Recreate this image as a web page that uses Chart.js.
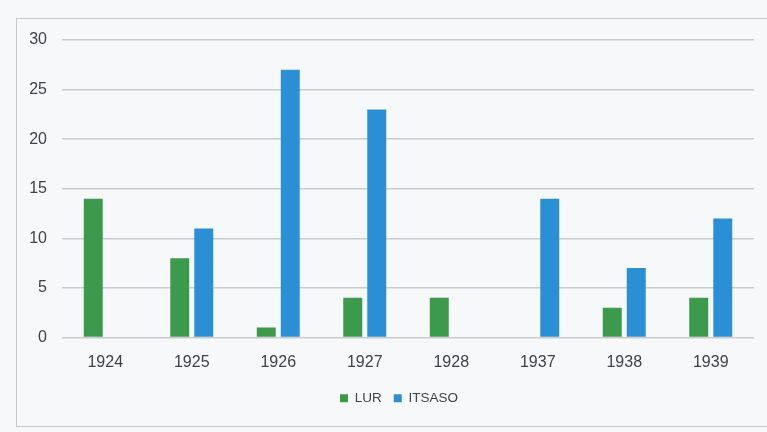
<!DOCTYPE html>
<html>
<head>
<meta charset="utf-8">
<script src="https://cdn.jsdelivr.net/npm/chart.js@4"></script>
<style>
  html, body { margin: 0; padding: 0; background: #f7f8fa; }
  #wrap { position: relative; width: 767px; height: 432px; overflow: hidden; }
  #frame { position: absolute; left: 16px; top: 18px; width: 780px; height: 409px; border: 1.5px solid #c6c8ca; box-sizing: border-box; }
  canvas { position: absolute; left: 0; top: 0; }
</style>
</head>
<body>
<div id="wrap">
  <div id="frame"></div>
  <canvas id="c" width="767" height="432"></canvas>
</div>
<script>
const categories = ["1924", "1925", "1926", "1927", "1928", "1937", "1938", "1939"];
const lurValues = [14, 8, 1, 4, 4, 0, 3, 4];
const itsasoValues = [0, 11, 27, 23, 0, 14, 7, 12];
const seriesNames = ["LUR", "ITSASO"];
const yTicks = { min: 0, max: 30, step: 5 };

const textColor = "#3f4246";
const gridColor = "#c9cbcd";

const shiftLegend = {
  id: "shiftLegend",
  afterLayout(chart) {
    const lg = chart.legend;
    if (lg) { lg.left += 44; lg.right += 0; }
  }
};

new Chart(document.getElementById("c"), {
  type: "bar",
  data: {
    labels: categories,
    datasets: [
      { label: seriesNames[0], data: lurValues, backgroundColor: "#3c9a4c", categoryPercentage: 0.555, barPercentage: 0.79 },
      { label: seriesNames[1], data: itsasoValues, backgroundColor: "#2b8fd6", categoryPercentage: 0.555, barPercentage: 0.79 }
    ]
  },
  plugins: [shiftLegend],
  options: {
    responsive: false,
    animation: false,
    devicePixelRatio: 1,
    layout: { padding: { left: 0, right: 13, top: 40, bottom: 17 } },
    plugins: {
      tooltip: { enabled: false },
      legend: {
        position: "bottom",
        labels: {
          boxWidth: 8, boxHeight: 8, padding: 12,
          color: textColor,
          font: { family: "Liberation Sans", size: 13.5 }
        }
      }
    },
    scales: {
      x: {
        grid: { display: false, drawTicks: false },
        border: { display: false },
        ticks: { color: textColor, padding: 15, font: { family: "Liberation Sans", size: 16 } },
        afterFit: (s) => { s.height = 42; }
      },
      y: {
        min: yTicks.min, max: yTicks.max,
        ticks: { stepSize: yTicks.step, color: textColor, padding: 15, font: { family: "Liberation Sans", size: 16 } },
        grid: { color: gridColor, lineWidth: 1.5, drawTicks: false },
        border: { display: false },
        afterFit: (s) => { s.width = 62; }
      }
    }
  }
});
</script>
</body>
</html>
